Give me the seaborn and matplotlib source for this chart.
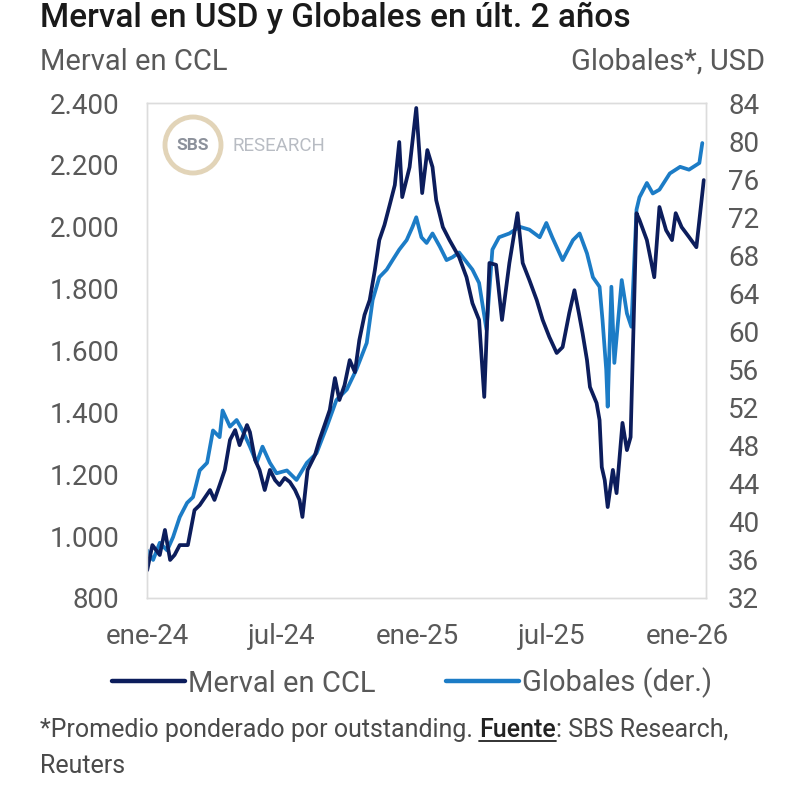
import pandas as pd
import matplotlib
matplotlib.use("Agg")
import matplotlib.pyplot as plt
import seaborn as sns
from matplotlib.patches import Ellipse
from matplotlib.lines import Line2D

# ==========================================
# DATA
# ==========================================
merval_dates = [
    "2024-01-01", "2024-01-08", "2024-01-18", "2024-01-25", "2024-02-01", "2024-02-07",
    "2024-02-14", "2024-02-25", "2024-03-05", "2024-03-12", "2024-03-26", "2024-04-01",
    "2024-04-08", "2024-04-15", "2024-04-22", "2024-04-29", "2024-05-05", "2024-05-15",
    "2024-05-19", "2024-05-26", "2024-06-01", "2024-06-08", "2024-06-15", "2024-06-22",
    "2024-06-28", "2024-07-05", "2024-07-12", "2024-07-19", "2024-07-25", "2024-07-29",
    "2024-08-05", "2024-08-15", "2024-08-21", "2024-08-28", "2024-09-04", "2024-09-11",
    "2024-09-17", "2024-09-24", "2024-10-01", "2024-10-08", "2024-10-14", "2024-10-21",
    "2024-10-28", "2024-11-04", "2024-11-10", "2024-11-17", "2024-11-24", "2024-12-01",
    "2024-12-07", "2024-12-11", "2024-12-21", "2024-12-30", "2025-01-07", "2025-01-14",
    "2025-01-21", "2025-01-26", "2025-02-04", "2025-02-13", "2025-02-26", "2025-03-08",
    "2025-03-16", "2025-03-25", "2025-04-01", "2025-04-08", "2025-04-17", "2025-04-25",
    "2025-05-05", "2025-05-16", "2025-05-23", "2025-06-01", "2025-06-11", "2025-06-19",
    "2025-06-28", "2025-07-08", "2025-07-16", "2025-07-25", "2025-08-01", "2025-08-07",
    "2025-08-12", "2025-08-18", "2025-08-22", "2025-08-31", "2025-09-04", "2025-09-07",
    "2025-09-11", "2025-09-15", "2025-09-22", "2025-09-27", "2025-10-05", "2025-10-11",
    "2025-10-16", "2025-10-24", "2025-10-28", "2025-11-07", "2025-11-17", "2025-11-24",
    "2025-12-03", "2025-12-11", "2025-12-16", "2025-12-24", "2026-01-03", "2026-01-13",
    "2026-01-19", "2026-01-23",
]
merval_ccl = [
    890, 971, 939, 1020, 923, 939,
    971, 971, 1084, 1100, 1149, 1117,
    1165, 1214, 1311, 1343, 1294, 1359,
    1336, 1246, 1214, 1149, 1214, 1181,
    1165, 1188, 1175, 1149, 1117, 1062,
    1214, 1262, 1311, 1359, 1408, 1511,
    1440, 1488, 1569, 1530, 1634, 1715,
    1763, 1860, 1957, 2006, 2070, 2135,
    2274, 2096, 2193, 2384, 2109, 2248,
    2193, 2086, 1999, 1957, 1902, 1837,
    1753, 1699, 1450, 1883, 1877, 1699,
    1883, 2044, 1883, 1828, 1763, 1699,
    1644, 1592, 1611, 1721, 1795, 1721,
    1656, 1569, 1482, 1430, 1375, 1223,
    1181, 1094, 1214, 1139, 1366, 1278,
    1320, 2044, 2022, 1957, 1837, 2064,
    1989, 1957, 2044, 1999, 1967, 1934,
    2064, 2151,
]

globales_dates = [
    "2024-01-01", "2024-01-09", "2024-01-18", "2024-01-28", "2024-02-05", "2024-02-14",
    "2024-02-24", "2024-03-03", "2024-03-12", "2024-03-22", "2024-03-30", "2024-04-08",
    "2024-04-12", "2024-04-22", "2024-05-01", "2024-05-09", "2024-05-19", "2024-05-28",
    "2024-06-05", "2024-06-15", "2024-06-24", "2024-07-08", "2024-07-21", "2024-08-04",
    "2024-08-17", "2024-08-31", "2024-09-13", "2024-09-27", "2024-10-10", "2024-10-24",
    "2024-11-01", "2024-11-10", "2024-11-20", "2024-11-28", "2024-12-07", "2024-12-17",
    "2024-12-25", "2024-12-30", "2025-01-06", "2025-01-13", "2025-01-21", "2025-01-31",
    "2025-02-09", "2025-02-17", "2025-02-26", "2025-03-08", "2025-03-16", "2025-03-25",
    "2025-04-04", "2025-04-12", "2025-04-21", "2025-05-05", "2025-05-19", "2025-06-01",
    "2025-06-15", "2025-06-24", "2025-07-02", "2025-07-16", "2025-07-30", "2025-08-08",
    "2025-08-18", "2025-08-26", "2025-09-04", "2025-09-08", "2025-09-13", "2025-09-15",
    "2025-09-20", "2025-09-24", "2025-10-04", "2025-10-11", "2025-10-17", "2025-10-24",
    "2025-10-28", "2025-11-07", "2025-11-15", "2025-11-24", "2025-12-08", "2025-12-22",
    "2026-01-03", "2026-01-17", "2026-01-21",
]
globales_usd = [
    37.0, 36.0, 37.8, 37.0, 38.4, 40.5,
    42.0, 42.6, 45.4, 46.2, 49.6, 48.9,
    51.7, 50.0, 50.7, 49.6, 47.9, 46.2,
    47.9, 46.2, 45.1, 45.4, 44.4, 46.2,
    47.2, 50.0, 52.8, 53.9, 56.0, 58.8,
    63.3, 65.7, 66.5, 67.5, 68.6, 69.6,
    71.0, 72.0, 69.9, 69.3, 70.3, 68.9,
    67.5, 67.8, 68.3, 67.3, 66.5, 65.1,
    60.2, 68.6, 69.9, 70.3, 71.0, 70.7,
    69.9, 71.4, 69.9, 67.5, 69.6, 70.3,
    68.2, 65.7, 64.7, 61.2, 56.0, 52.1,
    64.7, 56.7, 65.4, 61.9, 60.5, 72.8,
    74.1, 75.6, 74.5, 74.9, 76.6, 77.3,
    77.0, 77.7, 79.8,
]

left_ticks = [800, 1000, 1200, 1400, 1600, 1800, 2000, 2200, 2400]
left_labels = ["800", "1.000", "1.200", "1.400", "1.600", "1.800", "2.000", "2.200", "2.400"]
right_ticks = [32, 36, 40, 44, 48, 52, 56, 60, 64, 68, 72, 76, 80, 84]
x_ticks = ["2024-01-01", "2024-07-01", "2025-01-01", "2025-07-01", "2026-01-01"]
x_labels = ["ene-24", "jul-24", "ene-25", "jul-25", "ene-26"]

NAVY = "#0c1d5c"
BLUE = "#1c7cc6"
GRAY = "#595959"

# ==========================================
# PLOT
# ==========================================
sns.set_style("white")
plt.rcParams["font.family"] = ["Roboto", "DejaVu Sans"]

df_m = pd.DataFrame({"fecha": pd.to_datetime(merval_dates), "valor": merval_ccl})
df_g = pd.DataFrame({"fecha": pd.to_datetime(globales_dates), "valor": globales_usd})

fig = plt.figure(figsize=(8, 7.97), dpi=100)
ax = fig.add_axes([0.184, 0.2497, 0.6985, 0.621])
ax2 = ax.twinx()

sns.lineplot(data=df_g, x="fecha", y="valor", ax=ax2, color=BLUE, lw=2.7)
sns.lineplot(data=df_m, x="fecha", y="valor", ax=ax, color=NAVY, lw=2.7)
ax.set_zorder(ax2.get_zorder() + 1)
ax.patch.set_visible(False)

ax.set_xlim(pd.Timestamp("2024-01-01"), pd.Timestamp("2026-01-26"))
ax.set_ylim(800, 2400)
ax2.set_ylim(32, 84)

ax.set_yticks(left_ticks)
ax.set_yticklabels(left_labels)
ax2.set_yticks(right_ticks)
ax.set_xticks(pd.to_datetime(x_ticks))
ax.set_xticklabels(x_labels)

for a in (ax, ax2):
    a.set_xlabel("")
    a.set_ylabel("")
    for s in a.spines.values():
        s.set_color("#dcdcdc")
        s.set_linewidth(1.0)
ax.tick_params(axis="y", length=0, pad=20, labelsize=20, labelcolor=GRAY)
ax.tick_params(axis="x", length=0, pad=18, labelsize=20, labelcolor=GRAY)
ax2.tick_params(axis="y", length=0, pad=16, labelsize=20, labelcolor=GRAY)

# titles
fig.text(0.05, 1 - 18 / 797, "Merval en USD y Globales en últ. 2 años",
         fontsize=24, fontweight="medium", color="#1a1a1a", va="center", ha="left")
fig.text(0.05, 1 - 62 / 797, "Merval en CCL", fontsize=21, color=GRAY, va="center", ha="left")
fig.text(0.956, 1 - 62 / 797, "Globales*, USD", fontsize=21, color=GRAY, va="center", ha="right")

# logo
fig.add_artist(Ellipse((193 / 800, 1 - 145 / 797), 56 / 800, 56 / 797,
                       transform=fig.transFigure, fill=False, ec="#e2d4b8", lw=3.5))
fig.text(193 / 800, 1 - 146 / 797, "SBS", fontsize=12.5, fontweight="bold",
         color="#8c919b", ha="center", va="center")
fig.text(233 / 800, 1 - 146 / 797, "RESEARCH", fontsize=13.5, color="#b8bcc3",
         ha="left", va="center")

# legend
handles = [Line2D([], [], color=NAVY, lw=3.2), Line2D([], [], color=BLUE, lw=3.2)]
fig.legend(handles, ["Merval en CCL", "Globales (der.)"], loc="center",
           bbox_to_anchor=(0.515, 1 - 683 / 797), ncol=2, frameon=False, fontsize=21,
           handlelength=2.5, handletextpad=0.1, columnspacing=2.4, labelcolor=GRAY)

# footnote with underlined "Fuente"
fig.canvas.draw()
renderer = fig.canvas.get_renderer()
y_foot = 1 - 730 / 797
t1 = fig.text(0.05, y_foot, "*Promedio ponderado por outstanding. ", fontsize=18,
              color="#4a4a4a", va="center", ha="left")
bb1 = t1.get_window_extent(renderer)
x2 = bb1.x1 / fig.bbox.width
t2 = fig.text(x2, y_foot, "Fuente", fontsize=18, color="#222222", va="center",
              ha="left", fontweight="medium")
bb2 = t2.get_window_extent(renderer)
fig.add_artist(Line2D([bb2.x0 / fig.bbox.width, bb2.x1 / fig.bbox.width],
                      [(bb2.y0 + 1) / fig.bbox.height] * 2, transform=fig.transFigure,
                      color="#222222", lw=1.3))
fig.text(bb2.x1 / fig.bbox.width, y_foot, ": SBS Research,", fontsize=18,
         color="#4a4a4a", va="center", ha="left")
fig.text(0.05, 1 - 766 / 797, "Reuters", fontsize=18, color="#4a4a4a",
         va="center", ha="left")

fig.savefig("out.png", dpi=100)
